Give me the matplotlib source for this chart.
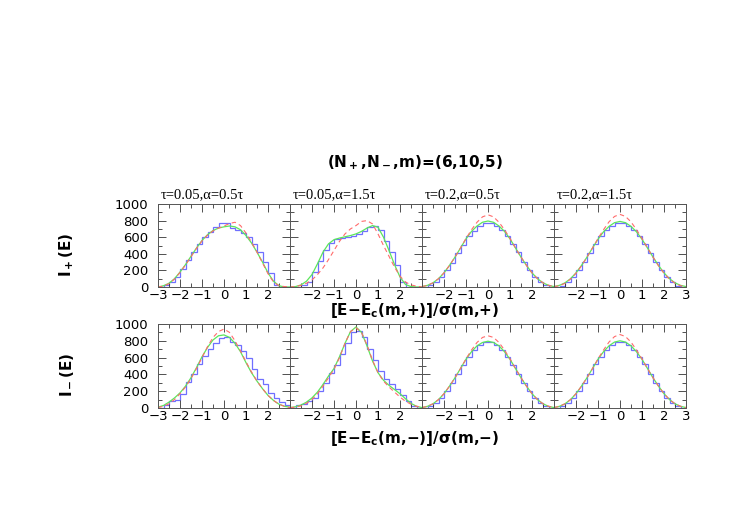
import numpy as np
import matplotlib
matplotlib.use("Agg")
from matplotlib import pyplot as plt
from matplotlib.ticker import MultipleLocator

plt.rcParams['mathtext.default'] = 'bf'

# grid of energies (curves) and histogram bin edges
x = np.arange(-3, 3.001, 0.25)
edges = np.arange(-3, 3.001, 0.25)

titles = ['τ=0.05,α=0.5τ', 'τ=0.05,α=1.5τ', 'τ=0.2,α=0.5τ', 'τ=0.2,α=1.5τ']

# ---- I+(E), top row ----
hist_p1 = [0, 20, 60, 120, 220, 320, 420, 520, 600, 660, 720, 770, 770, 710, 690, 650, 600, 520, 420, 300, 170, 20, 0, 0]
green_p1 = [0, 15, 45, 100, 180, 270, 370, 470, 560, 630, 680, 710, 725, 735, 725, 690, 620, 530, 420, 300, 170, 70, 15, 0, 0]
red_p1 = [0, 10, 40, 95, 175, 265, 365, 465, 555, 625, 675, 710, 735, 765, 780, 740, 650, 540, 420, 290, 160, 60, 15, 5, 0]

hist_p2 = [0, 0, 20, 60, 180, 310, 450, 530, 580, 590, 600, 620, 640, 680, 720, 730, 690, 560, 420, 260, 60, 0, 0, 0]
green_p2 = [0, 5, 25, 70, 150, 280, 420, 520, 570, 590, 605, 620, 640, 670, 710, 740, 720, 600, 440, 270, 120, 30, 5, 0, 0]
red_p2 = [0, 5, 20, 45, 85, 150, 230, 330, 440, 550, 640, 700, 740, 790, 800, 760, 640, 500, 370, 240, 130, 60, 25, 10, 0]

hist_p3 = [0, 20, 60, 120, 200, 290, 410, 510, 610, 680, 740, 775, 775, 740, 690, 620, 520, 420, 300, 200, 120, 60, 20, 0]
green_p3 = [5, 20, 50, 100, 170, 260, 360, 470, 580, 670, 735, 780, 795, 780, 735, 670, 580, 470, 360, 260, 170, 100, 50, 20, 5]
red_p3 = [5, 20, 50, 100, 170, 260, 360, 470, 585, 690, 780, 845, 870, 845, 780, 690, 585, 470, 360, 260, 170, 100, 50, 20, 5]

hist_p4 = [0, 15, 55, 115, 200, 300, 410, 520, 610, 690, 740, 770, 770, 740, 690, 610, 520, 410, 300, 200, 115, 55, 15, 0]
green_p4 = [5, 20, 50, 100, 170, 260, 360, 470, 575, 665, 730, 775, 790, 775, 730, 665, 575, 470, 360, 260, 170, 100, 50, 20, 5]
red_p4 = [5, 15, 45, 95, 165, 255, 360, 470, 585, 690, 785, 850, 875, 850, 785, 690, 585, 470, 360, 255, 165, 95, 45, 15, 5]

# ---- I-(E), bottom row ----
hist_m1 = [0, 40, 80, 100, 170, 310, 410, 520, 620, 700, 770, 830, 840, 790, 750, 680, 600, 460, 340, 280, 180, 120, 70, 30]
green_m1 = [10, 30, 70, 120, 180, 260, 360, 480, 610, 720, 810, 860, 870, 840, 770, 670, 540, 420, 320, 230, 150, 90, 45, 20, 10]
red_m1 = [5, 20, 50, 100, 170, 250, 350, 470, 600, 730, 840, 910, 940, 900, 800, 680, 550, 430, 320, 230, 150, 90, 45, 20, 5]

hist_m2 = [0, 30, 50, 80, 120, 200, 300, 420, 510, 640, 770, 900, 920, 850, 700, 570, 440, 340, 280, 230, 160, 80, 20, 0]
green_m2 = [5, 15, 35, 70, 120, 190, 280, 380, 470, 610, 770, 910, 965, 900, 740, 560, 420, 330, 270, 220, 170, 110, 55, 20, 5]
red_m2 = [5, 10, 25, 55, 100, 170, 260, 360, 460, 600, 770, 910, 955, 900, 750, 570, 420, 320, 250, 190, 130, 80, 45, 20, 10]

hist_m3 = [0, 20, 60, 120, 200, 300, 410, 510, 610, 690, 750, 780, 780, 750, 690, 610, 510, 410, 300, 200, 120, 60, 20, 0]
green_m3 = [5, 20, 50, 100, 170, 260, 360, 470, 580, 670, 740, 780, 795, 780, 740, 670, 580, 470, 360, 260, 170, 100, 50, 20, 5]
red_m3 = [5, 20, 50, 100, 170, 260, 360, 470, 585, 690, 780, 840, 860, 840, 780, 690, 585, 470, 360, 260, 170, 100, 50, 20, 5]

hist_m4 = [0, 20, 60, 120, 200, 300, 410, 520, 610, 690, 750, 780, 780, 750, 690, 610, 520, 410, 300, 200, 120, 60, 20, 0]
green_m4 = [5, 20, 50, 100, 170, 260, 360, 470, 580, 670, 740, 785, 800, 785, 740, 670, 580, 470, 360, 260, 170, 100, 50, 20, 5]
red_m4 = [5, 20, 50, 100, 170, 260, 360, 470, 585, 690, 785, 850, 875, 850, 785, 690, 585, 470, 360, 260, 170, 100, 50, 20, 5]

top_rows = [(hist_p1, green_p1, red_p1), (hist_p2, green_p2, red_p2),
            (hist_p3, green_p3, red_p3), (hist_p4, green_p4, red_p4)]
bot_rows = [(hist_m1, green_m1, red_m1), (hist_m2, green_m2, red_m2),
            (hist_m3, green_m3, red_m3), (hist_m4, green_m4, red_m4)]

xtick_vals = [-3, -2, -1, 0, 1, 2, 3]
ytick_vals = [0, 200, 400, 600, 800, 1000]

fig = plt.figure(figsize=(7.47, 5.19), dpi=100)

left = 158 / 747
pw = 132 / 747
rows_y = [(1 - 287 / 519, (287 - 204) / 519), (1 - 408 / 519, (408 - 324) / 519)]

for r, data in enumerate([top_rows, bot_rows]):
    y0, h = rows_y[r]
    for c, (hh, gg, rr) in enumerate(data):
        ax = fig.add_axes([left + c * pw, y0, pw, h])
        ax.stairs(hh, edges, color='#6f6fff', lw=0.9)
        ax.plot(x, gg, color='#5ce65c', lw=0.9)
        ax.plot(x, rr, color='#ff6b6b', lw=0.8, ls=(0, (4, 3)))
        ax.set_xlim(-3, 3)
        ax.set_ylim(0, 1000)
        ax.xaxis.set_minor_locator(MultipleLocator(0.5))
        ax.yaxis.set_minor_locator(MultipleLocator(100))
        ax.tick_params(which='both', direction='in', top=True, right=True,
                       labelsize=9.5, width=0.6, colors='#333333', labelcolor='black')
        ax.tick_params(axis='x', pad=1.5)
        ax.tick_params(axis='y', pad=7)
        ax.tick_params(which='major', length=6)
        ax.tick_params(which='minor', length=3)
        ax.set_xticks(xtick_vals)
        labs = ['−3', '−2', '−1', '0', '1', '2', '3']
        if c != 0:
            labs[0] = ''
        if c != 3:
            labs[-1] = ''
        ax.set_xticklabels(labs)
        ax.set_yticks(ytick_vals)
        if c == 0:
            ax.set_yticklabels([str(v) for v in ytick_vals])
        else:
            ax.set_yticklabels([])
        for sp in ax.spines.values():
            sp.set_linewidth(0.7)
            sp.set_color('#555555')
        if r == 0:
            ax.text(0.02, 1.03, titles[c], transform=ax.transAxes, ha='left', va='bottom',
                    fontsize=10.5, family=['Liberation Serif', 'DejaVu Serif'])

fig.text(415 / 747, 1 - 163 / 519, '(N$_+$,N$_-$,m)=(6,10,5)',
         ha='center', va='center', fontsize=11, fontweight='bold')
fig.text(415 / 747, 1 - 311 / 519, '[E−E$_c$(m,+)]/σ(m,+)',
         ha='center', va='center', fontsize=11, fontweight='bold')
fig.text(415 / 747, 1 - 439 / 519, '[E−E$_c$(m,−)]/σ(m,−)',
         ha='center', va='center', fontsize=11, fontweight='bold')
fig.text(67 / 747, 1 - 255 / 519, 'I$_+$(E)', ha='center', va='center', rotation=90,
         fontsize=11, fontweight='bold')
fig.text(67 / 747, 1 - 375 / 519, 'I$_-$(E)', ha='center', va='center', rotation=90,
         fontsize=11, fontweight='bold')

fig.savefig('out.png', dpi=100)
